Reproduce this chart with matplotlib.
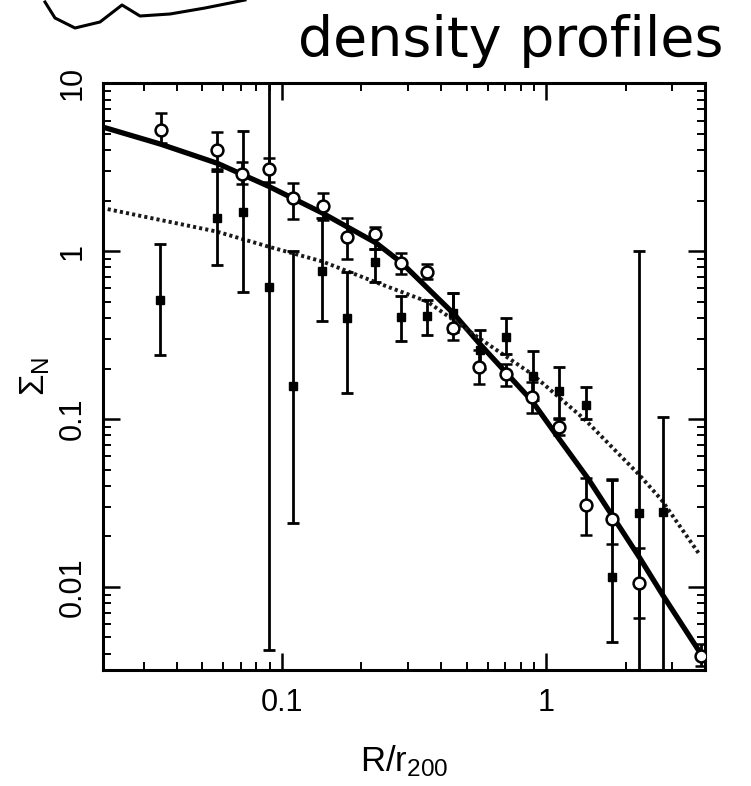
import numpy as np
import matplotlib
matplotlib.use("Agg")
import matplotlib.pyplot as plt
from matplotlib.lines import Line2D

# ---------------- data ----------------
r_circ = [0.0347, 0.0569, 0.0708, 0.0895, 0.1105, 0.1425, 0.177, 0.226, 0.282,
          0.353, 0.444, 0.559, 0.702, 0.886, 1.122, 1.42, 1.78, 2.25, 3.85]
sig_circ = [5.29, 4.01, 2.90, 3.09, 2.08, 1.85, 1.22, 1.27, 0.855,
            0.749, 0.347, 0.204, 0.185, 0.135, 0.0902, 0.0307, 0.0254, 0.0105, 0.0039]
circ_lo = [4.4, 3.1, 2.5, 2.6, 1.55, 1.53, 0.90, 1.03, 0.73,
           0.68, 0.295, 0.162, 0.157, 0.109, 0.080, 0.0203, 0.018, 0.0065, 0.0034]
circ_hi = [6.7, 5.15, 3.4, 3.6, 2.56, 2.22, 1.57, 1.39, 0.98,
           0.84, 0.56, 0.257, 0.212, 0.166, 0.102, 0.0443, 0.044, 0.017, 0.0046]

r_sq = [0.0346, 0.0566, 0.0711, 0.0894, 0.1105, 0.1416, 0.177, 0.2255, 0.283,
        0.355, 0.445, 0.56, 0.705, 0.893, 1.12, 1.41, 1.78, 2.25, 2.76]
sig_sq = [0.514, 1.57, 1.71, 0.616, 0.158, 0.766, 0.398, 0.86, 0.403,
          0.41, 0.426, 0.259, 0.309, 0.18, 0.146, 0.121, 0.0114, 0.0277, 0.0278]
sq_lo = [0.24, 0.83, 0.57, 0.0042, 0.0241, 0.385, 0.142, 0.655, 0.292,
         0.316, 0.33, 0.20, 0.244, 0.13, 0.10, 0.0998, 0.0047, 0.001, 0.001]
sq_hi = [1.10, 3.0, 5.2, 15.0, 1.0, 1.57, 0.753, 1.03, 0.542,
         0.513, 0.561, 0.34, 0.399, 0.254, 0.205, 0.155, 0.0436, 1.0, 0.103]

r_fit_solid = [0.0213, 0.0346, 0.0569, 0.0893, 0.142, 0.227, 0.282, 0.445,
               0.56, 0.885, 1.115, 1.445, 2.26, 2.76, 3.85]
sig_fit_solid = [5.45, 4.35, 3.34, 2.43, 1.69, 1.12, 0.86, 0.427,
                 0.281, 0.128, 0.0769, 0.0439, 0.0149, 0.00897, 0.0040]

r_fit_dot = [0.0219, 0.0565, 0.0888, 0.1417, 0.226, 0.355, 0.574, 0.887,
             1.41, 2.24, 2.73, 3.83]
sig_fit_dot = [1.78, 1.31, 1.065, 0.87, 0.654, 0.501, 0.294, 0.1845,
               0.0984, 0.0469, 0.0331, 0.0154]

x_ticks = [0.1, 1]
x_ticklabels = ["0.1", "1"]
y_ticks = [0.01, 0.1, 1, 10]
y_ticklabels = ["0.01", "0.1", "1", "10"]

# ---------------- style ----------------
plt.rcParams['font.family'] = ['Liberation Sans', 'DejaVu Sans']
plt.rcParams['mathtext.fontset'] = 'custom'
plt.rcParams['mathtext.rm'] = 'Liberation Sans'
plt.rcParams['mathtext.it'] = 'Liberation Sans:italic'

fig = plt.figure(figsize=(7.51, 7.86), dpi=100)
ax = fig.add_axes([0.137, 0.1476, 0.802, 0.7464])

ax.set_xscale('log')
ax.set_yscale('log')

# fits
ax.plot(r_fit_solid, sig_fit_solid, color='black', lw=3.8, solid_capstyle='round', zorder=3)
ax.plot(r_fit_dot, sig_fit_dot, color='#1a1a1a', lw=2.8, linestyle=(0, (0.8, 0.8)), zorder=3)

# data
def err(v, lo, hi):
    v = np.asarray(v); lo = np.asarray(lo); hi = np.asarray(hi)
    return np.vstack([v - lo, hi - v])

ax.errorbar(r_sq, sig_sq, yerr=err(sig_sq, sq_lo, sq_hi), fmt='s', ms=6,
            mfc='black', mec='black', ecolor='black', elinewidth=2.0, capsize=4.5,
            capthick=2.0, zorder=4)
ax.errorbar(r_circ, sig_circ, yerr=err(sig_circ, circ_lo, circ_hi), fmt='o', ms=8.5,
            mfc='white', mec='black', mew=1.8, ecolor='black', elinewidth=2.0,
            capsize=4.5, capthick=2.0, zorder=5)

ax.set_xlim(0.021, 4.0)
ax.set_ylim(0.0032, 10)

ax.set_xticks(x_ticks)
ax.set_xticklabels(x_ticklabels)
ax.set_yticks(y_ticks)
ax.set_yticklabels(y_ticklabels, rotation=90, va='center')

ax.tick_params(which='both', direction='in', top=True, right=True, colors='black')
ax.tick_params(which='major', length=12, width=1.8, labelsize=22, pad=13)
ax.tick_params(axis='y', which='major', pad=11)
ax.tick_params(which='minor', length=6, width=1.4)
for s in ax.spines.values():
    s.set_linewidth(2.2)

ax.set_xlabel(r'R/r$_{\mathrm{200}}$', fontsize=25, labelpad=18)
ax.set_ylabel(r'$\Sigma_{\mathrm{N}}$', fontsize=25, labelpad=4)

# handwritten annotation at top
fig.text(0.68, 1 - 56 / 786.0, 'density profiles', fontsize=40, ha='center',
         va='baseline', color='black', family='DejaVu Sans')
wx = np.array([45, 55, 75, 100, 122, 140, 170, 205, 245]) / 751.0
wy = 1 - np.array([2, 18, 28, 22, 5, 16, 14, 8, 0]) / 786.0
fig.add_artist(Line2D(wx, wy, transform=fig.transFigure, color='black', lw=2.2))

fig.savefig('out.png', dpi=100)
